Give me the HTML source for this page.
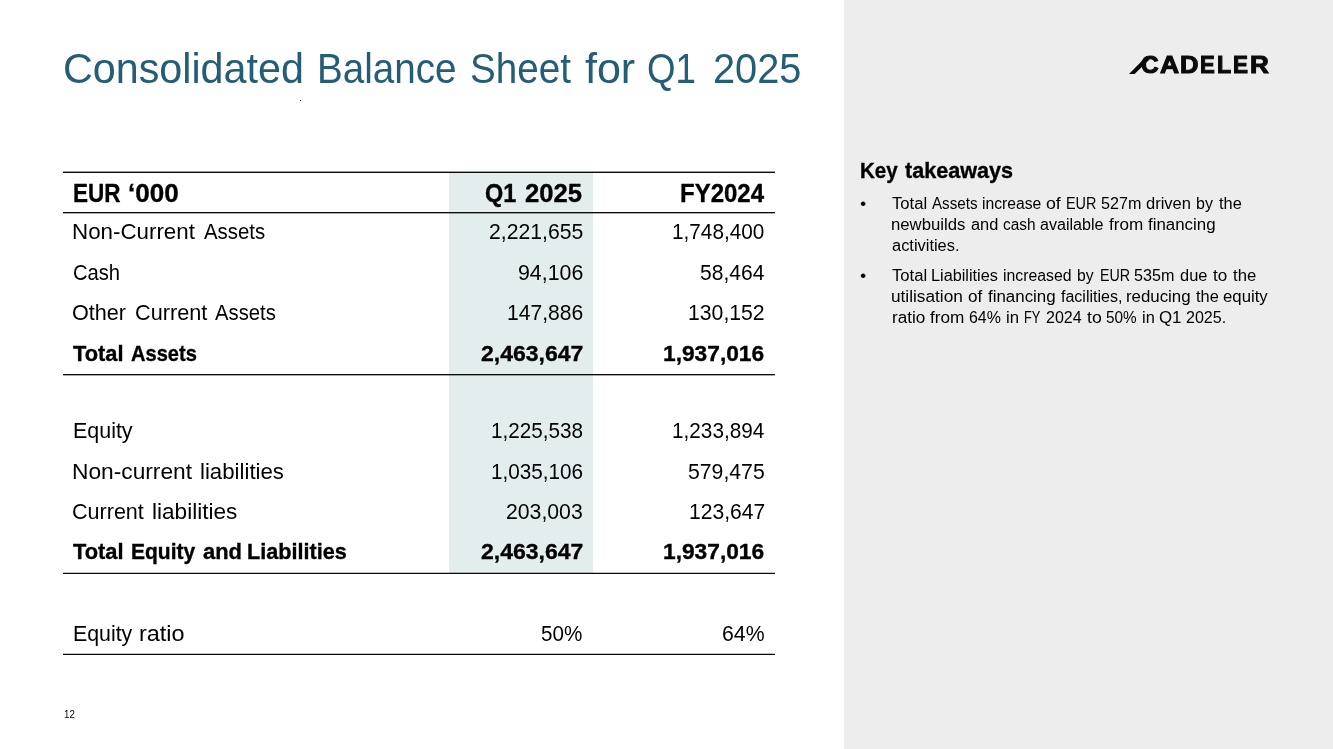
<!DOCTYPE html>
<html lang="en">
<head>
<meta charset="utf-8">
<title>Consolidated Balance Sheet for Q1 2025</title>
<style>
html,body{margin:0;padding:0;}
body{width:1333px;height:749px;position:relative;overflow:hidden;background:#fff;font-family:"Liberation Sans",sans-serif;color:#000;}
.abs{position:absolute;}
.t{position:absolute;white-space:nowrap;transform-origin:0 0;}
.g{margin:0;padding:0;border:0;font:inherit;list-style:none;display:block;position:static;}
.b{font-weight:bold;-webkit-text-stroke:0.35px #000;}
.lg{-webkit-text-stroke:1.1px #0a0a0a;}
#panel{left:844px;top:0;width:489px;height:749px;background:#ededed;}
#hl{left:449px;top:172px;width:144px;height:401px;background:#e4edee;}
</style>
</head>
<body>
<div id="panel" class="abs"></div>
<div class="abs" style="left:300px;top:100px;width:1px;height:1px;background:#000;"></div>
<div id="hl" class="abs"></div>
<h1 class="g">
<span id="titlew0" class="t" style="left:62.57px;top:45.00px;font-size:41.7px;line-height:47px;color:#235e76;transform:scaleX(0.9899)">Consolidated</span>
<span id="titlew1" class="t" style="left:317.38px;top:45.00px;font-size:41.7px;line-height:47px;color:#235e76;transform:scaleX(0.9263)">Balance</span>
<span id="titlew2" class="t" style="left:469.99px;top:45.00px;font-size:41.7px;line-height:47px;color:#235e76;transform:scaleX(0.9257)">Sheet</span>
<span id="titlew3" class="t" style="left:585.20px;top:45.00px;font-size:41.7px;line-height:47px;color:#235e76;transform:scaleX(1.0318)">for</span>
<span id="titlew4" class="t" style="left:646.88px;top:45.00px;font-size:41.7px;line-height:47px;color:#235e76;transform:scaleX(0.8811)">Q1</span>
<span id="titlew5" class="t" style="left:712.54px;top:45.00px;font-size:41.7px;line-height:47px;color:#235e76;transform:scaleX(0.9538)">2025</span>
</h1>
<div class="g table">
<div class="g thead">
<span id="h1w0" class="t b" style="left:72.59px;top:179.00px;font-size:25.2px;line-height:28px;transform:scaleX(0.8934)">EUR</span>
<span id="h1w1" class="t b" style="left:127.67px;top:179.00px;font-size:25.2px;line-height:28px;transform:scaleX(1.0355)">‘000</span>
<span id="h2w0" class="t b" style="left:485.07px;top:179.00px;font-size:25.2px;line-height:28px;transform:scaleX(0.9316)">Q1</span>
<span id="h2w1" class="t b" style="left:525.20px;top:179.00px;font-size:25.2px;line-height:28px;transform:scaleX(1.0175)">2025</span>
<span id="h3" class="t b" style="left:679.80px;top:179.00px;font-size:25.2px;line-height:28px;transform:scaleX(0.9523)">FY2024</span>
</div>
<div class="g tr">
<span id="r0aw0" class="t" style="left:72.46px;top:219.00px;font-size:22.0px;line-height:25px;transform:scaleX(1.0151)">Non-Current</span>
<span id="r0aw1" class="t" style="left:203.50px;top:219.00px;font-size:22.0px;line-height:25px;transform:scaleX(0.9260)">Assets</span>
<span id="r0b" class="t" style="left:488.71px;top:219.00px;font-size:22.6px;line-height:25px;transform:scaleX(0.9374)">2,221,655</span>
<span id="r0c" class="t" style="left:672.30px;top:219.00px;font-size:22.6px;line-height:25px;transform:scaleX(0.9182)">1,748,400</span>
</div>
<div class="g tr">
<span id="r1aw0" class="t" style="left:72.55px;top:260.00px;font-size:22.0px;line-height:25px;transform:scaleX(0.9167)">Cash</span>
<span id="r1b" class="t" style="left:517.70px;top:260.00px;font-size:22.6px;line-height:25px;transform:scaleX(0.9442)">94,106</span>
<span id="r1c" class="t" style="left:700.24px;top:260.00px;font-size:22.6px;line-height:25px;transform:scaleX(0.9314)">58,464</span>
</div>
<div class="g tr">
<span id="r2aw0" class="t" style="left:72.49px;top:300.00px;font-size:22.0px;line-height:25px;transform:scaleX(0.9818)">Other</span>
<span id="r2aw1" class="t" style="left:134.88px;top:300.00px;font-size:22.0px;line-height:25px;transform:scaleX(0.9848)">Current</span>
<span id="r2aw2" class="t" style="left:214.80px;top:300.00px;font-size:22.0px;line-height:25px;transform:scaleX(0.9214)">Assets</span>
<span id="r2b" class="t" style="left:506.58px;top:300.00px;font-size:22.6px;line-height:25px;transform:scaleX(0.9349)">147,886</span>
<span id="r2c" class="t" style="left:688.27px;top:300.00px;font-size:22.6px;line-height:25px;transform:scaleX(0.9387)">130,152</span>
</div>
<div class="g tr">
<span id="r3aw0" class="t b" style="left:73.30px;top:341.00px;font-size:22.0px;line-height:25px;transform:scaleX(0.9916)">Total</span>
<span id="r3aw1" class="t b" style="left:130.79px;top:341.00px;font-size:22.0px;line-height:25px;transform:scaleX(0.9123)">Assets</span>
<span id="r3b" class="t b" style="left:480.68px;top:341.00px;font-size:22.6px;line-height:25px;transform:scaleX(1.0180)">2,463,647</span>
<span id="r3c" class="t b" style="left:663.48px;top:341.00px;font-size:22.6px;line-height:25px;transform:scaleX(1.0064)">1,937,016</span>
</div>
<div class="g tr">
<span id="r4aw0" class="t" style="left:72.53px;top:418.00px;font-size:22.0px;line-height:25px;transform:scaleX(0.9743)">Equity</span>
<span id="r4b" class="t" style="left:490.81px;top:418.00px;font-size:22.6px;line-height:25px;transform:scaleX(0.9164)">1,225,538</span>
<span id="r4c" class="t" style="left:672.30px;top:418.00px;font-size:22.6px;line-height:25px;transform:scaleX(0.9182)">1,233,894</span>
</div>
<div class="g tr">
<span id="r5aw0" class="t" style="left:72.42px;top:459.00px;font-size:22.0px;line-height:25px;transform:scaleX(1.0331)">Non-current</span>
<span id="r5aw1" class="t" style="left:200.11px;top:459.00px;font-size:22.0px;line-height:25px;transform:scaleX(1.0101)">liabilities</span>
<span id="r5b" class="t" style="left:490.81px;top:459.00px;font-size:22.6px;line-height:25px;transform:scaleX(0.9164)">1,035,106</span>
<span id="r5c" class="t" style="left:688.24px;top:459.00px;font-size:22.6px;line-height:25px;transform:scaleX(0.9392)">579,475</span>
</div>
<div class="g tr">
<span id="r6aw0" class="t" style="left:72.49px;top:499.00px;font-size:22.0px;line-height:25px;transform:scaleX(0.9793)">Current</span>
<span id="r6aw1" class="t" style="left:151.99px;top:499.00px;font-size:22.0px;line-height:25px;transform:scaleX(1.0261)">liabilities</span>
<span id="r6b" class="t" style="left:506.20px;top:499.00px;font-size:22.6px;line-height:25px;transform:scaleX(0.9396)">203,003</span>
<span id="r6c" class="t" style="left:688.78px;top:499.00px;font-size:22.6px;line-height:25px;transform:scaleX(0.9324)">123,647</span>
</div>
<div class="g tr">
<span id="r7aw0" class="t b" style="left:73.30px;top:539.00px;font-size:22.0px;line-height:25px;transform:scaleX(0.9936)">Total</span>
<span id="r7aw1" class="t b" style="left:130.69px;top:539.00px;font-size:22.0px;line-height:25px;transform:scaleX(0.9547)">Equity</span>
<span id="r7aw2" class="t b" style="left:202.56px;top:539.00px;font-size:22.0px;line-height:25px;transform:scaleX(0.9957)">and</span>
<span id="r7aw3" class="t b" style="left:247.25px;top:539.00px;font-size:22.0px;line-height:25px;transform:scaleX(0.9828)">Liabilities</span>
<span id="r7b" class="t b" style="left:480.68px;top:539.00px;font-size:22.6px;line-height:25px;transform:scaleX(1.0180)">2,463,647</span>
<span id="r7c" class="t b" style="left:663.48px;top:539.00px;font-size:22.6px;line-height:25px;transform:scaleX(1.0064)">1,937,016</span>
</div>
<div class="g tr">
<span id="r8aw0" class="t" style="left:72.53px;top:621.00px;font-size:22.0px;line-height:25px;transform:scaleX(0.9693)">Equity</span>
<span id="r8aw1" class="t" style="left:139.23px;top:621.00px;font-size:22.0px;line-height:25px;transform:scaleX(1.0659)">ratio</span>
<span id="r8b" class="t" style="left:541.46px;top:621.00px;font-size:22.6px;line-height:25px;transform:scaleX(0.9121)">50%</span>
<span id="r8c" class="t" style="left:722.20px;top:621.00px;font-size:22.6px;line-height:25px;transform:scaleX(0.9402)">64%</span>
</div>
</div>
<div class="g logo">
<span id="lg0" class="t b lg" style="left:1141.34px;top:51.00px;font-size:24.8px;line-height:27px;color:#0a0a0a;transform:scaleX(0.9842)">C</span>
<span id="lg1" class="t b lg" style="left:1159.99px;top:51.00px;font-size:24.8px;line-height:27px;color:#0a0a0a;transform:scaleX(1.0674)">A</span>
<span id="lg2" class="t b lg" style="left:1179.90px;top:51.00px;font-size:24.8px;line-height:27px;color:#0a0a0a;transform:scaleX(1.0323)">D</span>
<span id="lg3" class="t b lg" style="left:1200.12px;top:51.00px;font-size:24.8px;line-height:27px;color:#0a0a0a;transform:scaleX(0.8928)">E</span>
<span id="lg4" class="t b lg" style="left:1217.45px;top:51.00px;font-size:24.8px;line-height:27px;color:#0a0a0a;transform:scaleX(0.9336)">L</span>
<span id="lg5" class="t b lg" style="left:1233.19px;top:51.00px;font-size:24.8px;line-height:27px;color:#0a0a0a;transform:scaleX(0.9067)">E</span>
<span id="lg6" class="t b lg" style="left:1250.27px;top:51.00px;font-size:24.8px;line-height:27px;color:#0a0a0a;transform:scaleX(1.0511)">R</span>
</div>
<h2 class="g">
<span id="ktw0" class="t b" style="left:860.01px;top:158.00px;font-size:22.0px;line-height:25px;transform:scaleX(0.9355)">Key</span>
<span id="ktw1" class="t b" style="left:905.30px;top:158.00px;font-size:22.0px;line-height:25px;transform:scaleX(0.9817)">takeaways</span>
</h2>
<ul class="g">
<li class="g">
<span id="l0w0" class="t" style="left:892.24px;top:195.00px;font-size:16.0px;line-height:17px;transform:scaleX(1.0403)">Total</span>
<span id="l0w1" class="t" style="left:931.80px;top:195.00px;font-size:16.0px;line-height:17px;transform:scaleX(0.9471)">Assets</span>
<span id="l0w2" class="t" style="left:982.32px;top:195.00px;font-size:16.0px;line-height:17px;transform:scaleX(0.9808)">increase</span>
<span id="l0w3" class="t" style="left:1046.45px;top:195.00px;font-size:16.0px;line-height:17px;transform:scaleX(1.1087)">of</span>
<span id="l0w4" class="t" style="left:1065.67px;top:195.00px;font-size:16.0px;line-height:17px;transform:scaleX(0.9007)">EUR</span>
<span id="l0w5" class="t" style="left:1100.80px;top:195.00px;font-size:16.0px;line-height:17px;transform:scaleX(1.0079)">527m</span>
<span id="l0w6" class="t" style="left:1146.18px;top:195.00px;font-size:16.0px;line-height:17px;transform:scaleX(1.0313)">driven</span>
<span id="l0w7" class="t" style="left:1195.80px;top:195.00px;font-size:16.0px;line-height:17px;transform:scaleX(1.0001)">by</span>
<span id="l0w8" class="t" style="left:1219.30px;top:195.00px;font-size:16.0px;line-height:17px;transform:scaleX(1.0234)">the</span>
<span id="l1w0" class="t" style="left:891.45px;top:216.00px;font-size:16.0px;line-height:17px;transform:scaleX(1.0451)">newbuilds</span>
<span id="l1w1" class="t" style="left:970.79px;top:216.00px;font-size:16.0px;line-height:17px;transform:scaleX(1.0238)">and</span>
<span id="l1w2" class="t" style="left:1003.02px;top:216.00px;font-size:16.0px;line-height:17px;transform:scaleX(0.9630)">cash</span>
<span id="l1w3" class="t" style="left:1040.20px;top:216.00px;font-size:16.0px;line-height:17px;transform:scaleX(1.0063)">available</span>
<span id="l1w4" class="t" style="left:1108.80px;top:216.00px;font-size:16.0px;line-height:17px;transform:scaleX(1.0683)">from</span>
<span id="l1w5" class="t" style="left:1147.80px;top:216.00px;font-size:16.0px;line-height:17px;transform:scaleX(1.0547)">financing</span>
<span id="l2w0" class="t" style="left:891.99px;top:237.00px;font-size:16.0px;line-height:17px;transform:scaleX(1.0258)">activities.</span>
<span id="bu0" class="t" style="left:860.14px;top:193.00px;font-size:17.2px;line-height:20px;transform:scaleX(1.0336)">•</span>
</li>
<li class="g">
<span id="l3w0" class="t" style="left:892.24px;top:267.00px;font-size:16.0px;line-height:17px;transform:scaleX(1.0403)">Total</span>
<span id="l3w1" class="t" style="left:931.43px;top:267.00px;font-size:16.0px;line-height:17px;transform:scaleX(1.0162)">Liabilities</span>
<span id="l3w2" class="t" style="left:1003.31px;top:267.00px;font-size:16.0px;line-height:17px;transform:scaleX(0.9885)">increased</span>
<span id="l3w3" class="t" style="left:1077.42px;top:267.00px;font-size:16.0px;line-height:17px;transform:scaleX(0.9812)">by</span>
<span id="l3w4" class="t" style="left:1099.69px;top:267.00px;font-size:16.0px;line-height:17px;transform:scaleX(0.8913)">EUR</span>
<span id="l3w5" class="t" style="left:1134.30px;top:267.00px;font-size:16.0px;line-height:17px;transform:scaleX(1.0079)">535m</span>
<span id="l3w6" class="t" style="left:1179.79px;top:267.00px;font-size:16.0px;line-height:17px;transform:scaleX(1.0256)">due</span>
<span id="l3w7" class="t" style="left:1212.50px;top:267.00px;font-size:16.0px;line-height:17px;transform:scaleX(1.0634)">to</span>
<span id="l3w8" class="t" style="left:1232.80px;top:267.00px;font-size:16.0px;line-height:17px;transform:scaleX(1.0420)">the</span>
<span id="l4w0" class="t" style="left:891.42px;top:288.00px;font-size:16.0px;line-height:17px;transform:scaleX(1.0771)">utilisation</span>
<span id="l4w1" class="t" style="left:968.17px;top:288.00px;font-size:16.0px;line-height:17px;transform:scaleX(1.0699)">of</span>
<span id="l4w2" class="t" style="left:987.80px;top:288.00px;font-size:16.0px;line-height:17px;transform:scaleX(1.0562)">financing</span>
<span id="l4w3" class="t" style="left:1060.50px;top:288.00px;font-size:16.0px;line-height:17px;transform:scaleX(1.0007)">facilities,</span>
<span id="l4w4" class="t" style="left:1125.65px;top:288.00px;font-size:16.0px;line-height:17px;transform:scaleX(1.0525)">reducing</span>
<span id="l4w5" class="t" style="left:1195.70px;top:288.00px;font-size:16.0px;line-height:17px;transform:scaleX(1.0234)">the</span>
<span id="l4w6" class="t" style="left:1223.28px;top:288.00px;font-size:16.0px;line-height:17px;transform:scaleX(1.0475)">equity</span>
<span id="l5w0" class="t" style="left:891.73px;top:309.00px;font-size:16.0px;line-height:17px;transform:scaleX(1.0686)">ratio</span>
<span id="l5w1" class="t" style="left:930.00px;top:309.00px;font-size:16.0px;line-height:17px;transform:scaleX(1.0747)">from</span>
<span id="l5w2" class="t" style="left:969.05px;top:309.00px;font-size:16.0px;line-height:17px;transform:scaleX(0.9969)">64%</span>
<span id="l5w3" class="t" style="left:1005.76px;top:309.00px;font-size:16.0px;line-height:17px;transform:scaleX(1.0422)">in</span>
<span id="l5w4" class="t" style="left:1024.29px;top:309.00px;font-size:16.0px;line-height:17px;transform:scaleX(0.8043)">FY</span>
<span id="l5w5" class="t" style="left:1045.55px;top:309.00px;font-size:16.0px;line-height:17px;transform:scaleX(1.0016)">2024</span>
<span id="l5w6" class="t" style="left:1086.80px;top:309.00px;font-size:16.0px;line-height:17px;transform:scaleX(1.1028)">to</span>
<span id="l5w7" class="t" style="left:1106.32px;top:309.00px;font-size:16.0px;line-height:17px;transform:scaleX(0.9566)">50%</span>
<span id="l5w8" class="t" style="left:1142.18px;top:309.00px;font-size:16.0px;line-height:17px;transform:scaleX(1.0232)">in</span>
<span id="l5w9" class="t" style="left:1159.21px;top:309.00px;font-size:16.0px;line-height:17px;transform:scaleX(1.0529)">Q1</span>
<span id="l5w10" class="t" style="left:1185.95px;top:309.00px;font-size:16.0px;line-height:17px;transform:scaleX(1.0041)">2025.</span>
<span id="bu1" class="t" style="left:860.14px;top:265.00px;font-size:17.2px;line-height:20px;transform:scaleX(1.0336)">•</span>
</li>
</ul>
<div class="g pagenum">
<span id="pn" class="t" style="left:63.59px;top:708.00px;font-size:11.3px;line-height:12px;transform:scaleX(0.8593)">12</span>
</div>
<svg class="abs" style="left:0;top:0" width="1333" height="749" viewBox="0 0 1333 749">
<g fill="#0b0b0b">
<rect x="63" y="171.6" width="712" height="1.4"/>
<rect x="63" y="212" width="712" height="1.35"/>
<rect x="63" y="374" width="712" height="1.35"/>
<rect x="63" y="572.75" width="712" height="1.25"/>
<rect x="63" y="653.75" width="712" height="1.25"/>
</g>
<polygon points="1129,73.9 1134.6,73.9 1149.5,59.5 1146.5,56.3" fill="#0a0a0a"/>
</svg>
</body>
</html>
